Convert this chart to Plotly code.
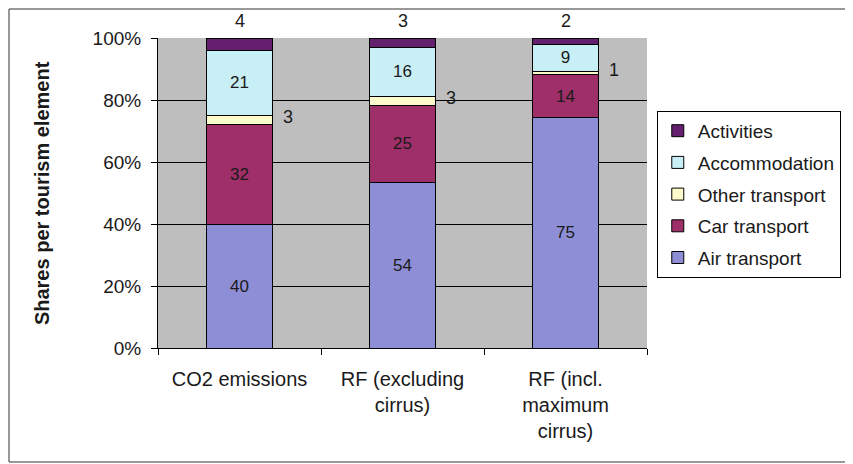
import plotly.graph_objects as go

categories = ["CO2 emissions", "RF (excluding<br>cirrus)", "RF (incl.<br>maximum<br>cirrus)"]
air_transport = [40, 54, 75]
car_transport = [32, 25, 14]
other_transport = [3, 3, 1]
accommodation = [21, 16, 9]
activities = [4, 3, 2]
y_ticks = [0, 20, 40, 60, 80, 100]
y_tick_labels = ["0%", "20%", "40%", "60%", "80%", "100%"]

colors = {
    "Air transport": "#8E8ED6",
    "Car transport": "#9E2F68",
    "Other transport": "#FDFBCB",
    "Accommodation": "#C8EEF6",
    "Activities": "#64206E",
}

FONT = "Liberation Sans, Arial, sans-serif"
TXT = "#1a1a1a"

fig = go.Figure()
series = [
    ("Air transport", air_transport, True),
    ("Car transport", car_transport, True),
    ("Other transport", other_transport, False),
    ("Accommodation", accommodation, True),
    ("Activities", activities, False),
]
n = len(series)
for k, (name, vals, show_text) in enumerate(series):
    fig.add_trace(go.Bar(
        name=name, x=categories, y=vals, legendgroup=name, legendrank=n - k,
        marker=dict(color=colors[name], line=dict(color="black", width=1)),
        text=[str(v) for v in vals] if show_text else None,
        textposition="inside" if show_text else "none",
        insidetextanchor="middle", textangle=0,
        textfont=dict(size=17, color=TXT, family=FONT),
        constraintext="none",
    ))

totals = [a + c + o + ac + ak for a, c, o, ac, ak in
          zip(air_transport, car_transport, other_transport, accommodation, activities)]

annotations = []
for i, cat in enumerate(categories):
    annotations.append(dict(
        x=cat, xref="x", y=1, yref="paper", yanchor="bottom", yshift=5,
        text=str(activities[i]), showarrow=False,
        font=dict(size=18, color=TXT, family=FONT)))
    mid = (air_transport[i] + car_transport[i] + other_transport[i] / 2) / totals[i] * 100
    annotations.append(dict(
        x=cat, xref="x", y=mid, yref="y", xshift=48, yshift=3,
        text=str(other_transport[i]), showarrow=False,
        font=dict(size=18, color=TXT, family=FONT)))
annotations.append(dict(
    x=-0.237, xref="paper", y=0.5, yref="paper", textangle=-90,
    xanchor="center", yanchor="middle",
    text="<b>Shares per tourism element</b>", showarrow=False,
    font=dict(size=20, color=TXT, family=FONT)))

fig.update_layout(
    width=845, height=456,
    margin=dict(l=150, r=206, t=30, b=116),
    barmode="stack", barnorm="percent", bargap=0.6,
    plot_bgcolor="#BEBEBE", paper_bgcolor="white",
    font=dict(family=FONT, color=TXT),
    showlegend=True,
    legend=dict(
        x=1.02, y=0.765, xanchor="left", yanchor="top",
        traceorder="grouped", tracegroupgap=4,
        bordercolor="black", borderwidth=1, itemwidth=30,
        bgcolor="white", font=dict(size=19, color=TXT, family=FONT),
    ),
    annotations=annotations,
    shapes=[dict(type="rect", xref="paper", yref="paper",
                 x0=-0.3047, x1=1.411, y0=-0.3677, y1=1.0935,
                 line=dict(color="#333333", width=1), layer="below")],
)
fig.update_yaxes(
    range=[0, 100], tickvals=y_ticks, ticktext=y_tick_labels,
    showgrid=True, gridcolor="black", gridwidth=1,
    showline=True, linecolor="black", linewidth=1,
    ticks="outside", ticklen=6, tickcolor="black", ticklabelstandoff=6,
    tickfont=dict(size=19, color=TXT, family=FONT), zeroline=False,
)
fig.update_xaxes(
    showline=True, linecolor="black", linewidth=1,
    ticks="outside", ticklen=6, tickcolor="black", tickson="boundaries",
    ticklabelstandoff=13,
    tickfont=dict(size=20, color=TXT, family=FONT), tickangle=0,
)

fig.write_html("out.html")
